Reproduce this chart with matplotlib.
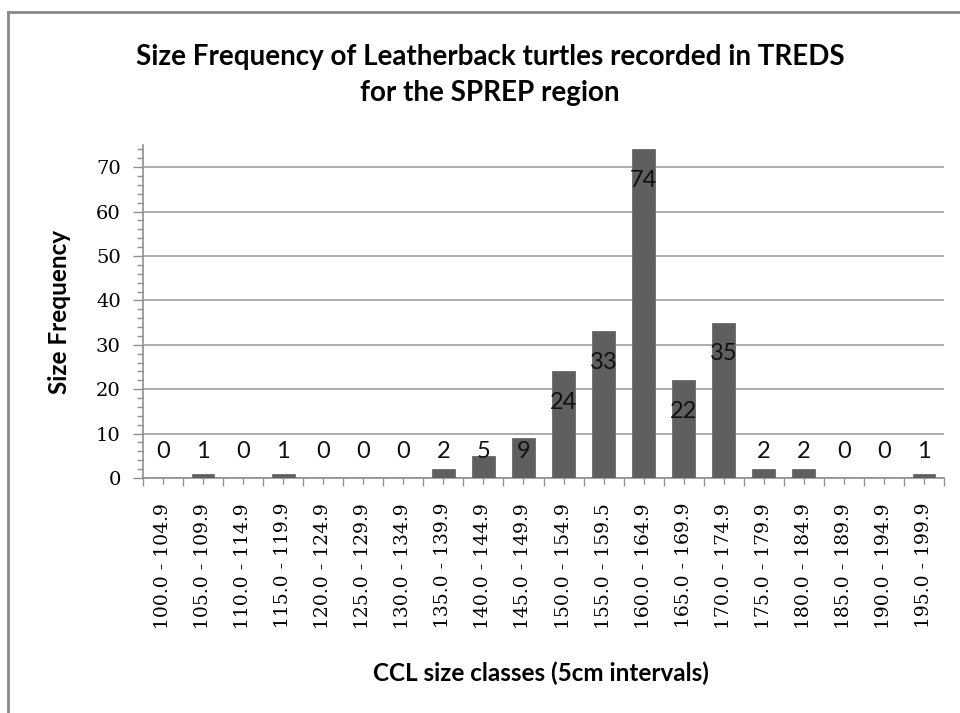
"""Size frequency of leatherback turtles (TREDS, SPREP region) as an Excel-style bar chart."""

import matplotlib
matplotlib.use("Agg")
import matplotlib.pyplot as plt  # noqa: E402
import numpy as np  # noqa: E402
from matplotlib.lines import Line2D  # noqa: E402
from matplotlib.ticker import MultipleLocator  # noqa: E402

size_classes = [
    "100.0 - 104.9", "105.0 - 109.9", "110.0 - 114.9", "115.0 - 119.9",
    "120.0 - 124.9", "125.0 - 129.9", "130.0 - 134.9", "135.0 - 139.9",
    "140.0 - 144.9", "145.0 - 149.9", "150.0 - 154.9", "155.0 - 159.5",
    "160.0 - 164.9", "165.0 - 169.9", "170.0 - 174.9", "175.0 - 179.9",
    "180.0 - 184.9", "185.0 - 189.9", "190.0 - 194.9", "195.0 - 199.9",
]
counts = [0, 1, 0, 1, 0, 0, 0, 2, 5, 9, 24, 33, 74, 22, 35, 2, 2, 0, 0, 1]

W, H = 960, 713
fig = plt.figure(figsize=(W / 100, H / 100), dpi=100)
ax = fig.add_axes([143 / W, 1 - 478 / H, (944 - 143) / W, (478 - 145) / H])

x = np.arange(len(counts))
ax.bar(x, counts, width=0.57, color="#5f5f5f", edgecolor="#6a6a6a", linewidth=0.6, zorder=3)

# data labels sit just inside the bar end, but never below ~6
for xi, v in zip(x, counts):
    ax.text(xi, max(v - 7, 6), str(v), ha="center", va="center",
            fontsize=17, family="Lato", color="#111111", zorder=4)

ax.set_xlim(-0.5, len(counts) - 0.5)
ax.set_ylim(0, 75)
ax.yaxis.set_minor_locator(MultipleLocator(2))
ax.set_yticks(range(0, 71, 10))
ax.yaxis.grid(True, color="#a0a0a0", linewidth=1.2, zorder=0)
ax.set_axisbelow(True)

# category boundaries get the long ticks, category centers the short ones
ax.set_xticks(np.arange(len(counts) + 1) - 0.5, [""] * (len(counts) + 1))
ax.set_xticks(x, size_classes, minor=True, rotation=90, family="DejaVu Serif", fontsize=13.5)
ax.tick_params(axis="x", which="major", length=6, width=1, color="#909090")
ax.tick_params(axis="x", which="minor", length=4, width=1, color="#909090", pad=14)
ax.tick_params(axis="y", which="major", length=7, width=1, color="#909090", labelsize=14, pad=9)
ax.tick_params(axis="y", which="minor", length=4, width=1, color="#909090")
for lab in ax.get_yticklabels():
    lab.set_family("DejaVu Serif")

for s in ("top", "right"):
    ax.spines[s].set_visible(False)
for s in ("left", "bottom"):
    ax.spines[s].set_color("#909090")
    ax.spines[s].set_linewidth(1.2)

ax.set_ylabel("Size Frequency", fontsize=17.5, fontweight="bold", family="Lato")
ax.yaxis.set_label_coords((71 - 143) / (944 - 143), 0.5)
fig.text(541 / W, 1 - 673 / H, "CCL size classes (5cm intervals)", ha="center", va="center",
         fontsize=17.5, fontweight="bold", family="Lato")
fig.text(490 / W, 1 - 75 / H, "Size Frequency of Leatherback turtles recorded in TREDS\nfor the SPREP region",
         ha="center", va="center", fontsize=20, fontweight="bold", family="Lato", linespacing=1.45)

# outer chart border (only top and left edges are in frame)
fig.add_artist(Line2D([8 / W, 1], [1 - 12 / H, 1 - 12 / H], transform=fig.transFigure, color="#8a8a8a", lw=2))
fig.add_artist(Line2D([8 / W, 8 / W], [0, 1 - 12 / H], transform=fig.transFigure, color="#8a8a8a", lw=2))

fig.savefig("out.png", dpi=100)
